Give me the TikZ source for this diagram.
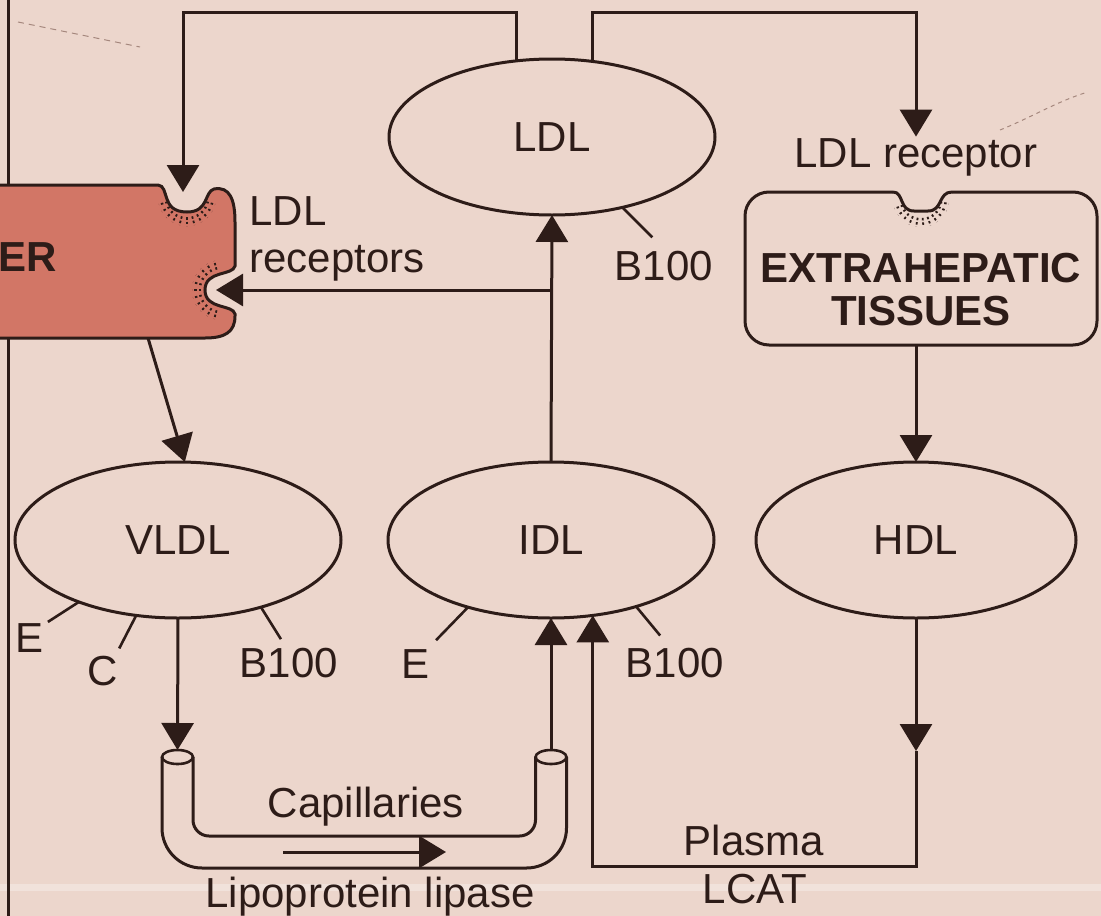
\documentclass[tikz,border=0pt]{standalone}
\usepackage{fontspec}
\setmainfont{Liberation Sans}
\usetikzlibrary{shapes.geometric,arrows.meta}
\definecolor{bg}{RGB}{236,214,204}
\definecolor{ink}{RGB}{45,28,24}
\definecolor{liverc}{RGB}{210,118,102}
\definecolor{faint}{RGB}{165,135,125}
\begin{document}
\begin{tikzpicture}[x=1pt,y=-1pt,line width=3pt,color=ink,
  font=\fontsize{42}{48}\selectfont,
  lp/.style={ellipse,draw=ink,line width=3pt,minimum width=326pt,minimum height=156pt,inner sep=0pt,outer sep=0pt},
  arr/.style={-{Triangle[width=32pt,length=27pt]}},
  lbl/.style={anchor=base,inner sep=0pt},
  tick/.style={line width=2.6pt},
  rec/.style={line width=1.8pt,dash pattern=on 2.5pt off 2pt},
  bold/.style={font=\bfseries\fontsize{42}{48}\selectfont}]
\useasboundingbox (0,0) rectangle (1101,916);
\fill[bg] (0,0) rectangle (1101,916);
\fill[white,opacity=0.3] (0,884) rectangle (1101,891);
% faint paper marks
\draw[faint,line width=1pt,dash pattern=on 6pt off 5pt] (18,22) -- (140,47);
\draw[faint,line width=1pt,dash pattern=on 4pt off 4pt] (1000,130) .. controls (1030,118) and (1060,100) .. (1088,92);
% left margin line
\draw (8,-5) -- (8,921);
% liver
\filldraw[fill=liverc,draw=ink] (-10,185) -- (158,185) .. controls (170,186) and (160,212) .. (187,212)
  .. controls (209,212) and (204,192) .. (214,189) .. controls (230,186) and (235,200) .. (235,222)
  -- (235,266) .. controls (233,276) and (205,270) .. (205,290) .. controls (205,310) and (233,304) .. (235,314)
  -- (235,316) .. controls (235,332) and (225,338) .. (205,338) -- (-10,338) -- cycle;
\foreach \a in {15,30,...,165} \draw[rec] ([shift={(187,197)}] \a:20) -- ([shift={(187,197)}] \a:29);
\foreach \a in {105,120,...,255} \draw[rec] ([shift={(222,290)}] \a:21) -- ([shift={(222,290)}] \a:30);
\node[bold,anchor=base west,inner sep=0pt] (liver) at (-3,271) {ER};
\coordinate (n1) at (183,192);
\coordinate (n2) at (216,290);
\coordinate (lb) at (148,338);
\node[anchor=base west,inner sep=0pt] (lrl) at (248,225) {LDL};
\node[anchor=base west,inner sep=0pt] (lrr) at (248,272) {receptors};
% lipoproteins
\node[lp] (ldl) at (552,137) {LDL};
\node[lp] (vldl) at (178,540) {VLDL};
\node[lp] (idl) at (551,540) {IDL};
\node[lp,minimum width=320pt] (hdl) at (916,540) {HDL};
% extrahepatic tissues
\node[draw,rounded corners=24pt,minimum width=352pt,minimum height=153pt,inner sep=0pt,outer sep=0pt] (ext) at (921,268.5) {};
\fill[bg] (893,188) rectangle (952,196);
\draw (893,192) .. controls (904,192) and (899,211) .. (914,211) -- (928,211) .. controls (943,211) and (938,192) .. (952,192);
\foreach \a in {10,25,...,170} \draw[rec] ([shift={(921,199)}] \a:19) -- ([shift={(921,199)}] \a:28);
\node[bold,lbl] (ext1) at (921,282) {EXTRAHEPATIC};
\node[bold,lbl] (ext2) at (921,325) {TISSUES};
\node[lbl] (lrec) at (916,167) {LDL receptor};
% apoproteins
\draw[tick] (ldl.-45) -- ++(30,30);
\node[lbl] (ldlb) at (664,280) {B100};
\draw[tick] (vldl.212) -- ++(-31,20);
\node[lbl] (ve) at (30,652) {E};
\draw[tick] (vldl.241) -- ++(-17,33);
\node[lbl] (vc) at (103,685) {C};
\draw[tick] (vldl.-39) -- ++(20,32);
\node[lbl] (vb) at (289,677) {B100};
\draw[tick] (idl.219) -- ++(-32,33);
\node[lbl] (ie) at (416,678) {E};
\draw[tick] (idl.-38) -- ++(24,29);
\node[lbl] (ib) at (675,677) {B100};
% capillaries
\node[ellipse,draw,line width=2.6pt,minimum width=31pt,minimum height=14pt,inner sep=0pt,outer sep=0pt] (capL) at (177.5,757) {};
\node[ellipse,draw,line width=2.6pt,minimum width=31pt,minimum height=14pt,inner sep=0pt,outer sep=0pt] (capR) at (551,757) {};
\draw[rounded corners=40pt] (capL.west) -- (capL.west |- 0,868) -- (capR.east |- 0,868) -- (capR.east);
\draw[rounded corners=16pt] (capL.east) -- (capL.east |- 0,836) -- (capR.west |- 0,836) -- (capR.west);
\coordinate (fa1) at (283,852);
\coordinate (fa2) at (446,852);
\draw[arr] (fa1) -- (fa2);
\node[lbl] (capt) at (366,817) {Capillaries};
\node[lbl] (lpl) at (370,907) {Lipoprotein lipase};
% plasma LCAT
\coordinate (hm) at (916,751);
\coordinate (pc) at (916,866);
\node[lbl] (plasma) at (754,855) {Plasma};
\node[lbl] (lcat) at (755,903) {LCAT};
% connectors
\coordinate (top) at (0,12);
\draw[arr] (ldl.115) -- (ldl.115 |- top) -| (n1);
\draw[arr] (ldl.62) -- (ldl.62 |- top) -| (lrec.north);
\draw[arr] (idl.north) -- (ldl.south);
\coordinate (br) at (idl.north |- 0,290);
\draw[arr] (br) -- (n2);
\draw[arr] (lb) -- (vldl.85);
\draw[arr] (ext.south -| hdl.north) -- (hdl.north);
\draw[arr] (vldl.south) -- (capL.north);
\draw[arr] (capR.north) -- (idl.south);
\draw[arr] (hdl.south) -- (hm);
\draw[arr] (hm) -- (pc) -| (idl.-61);
\end{tikzpicture}
\end{document}
